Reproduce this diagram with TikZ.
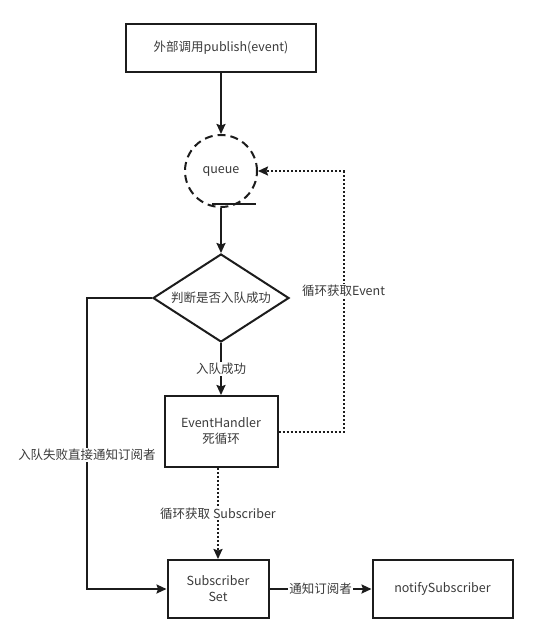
\documentclass[tikz,border=0pt]{standalone}
\usepackage{fontspec}
\setmainfont{Noto Sans CJK SC}
\usetikzlibrary{shapes,positioning,calc,arrows.meta}
\definecolor{linegray}{HTML}{1C1C1C}
\definecolor{textgray}{HTML}{3A3A3A}

\begin{document}
\begin{tikzpicture}[
    font=\fontsize{12.5pt}{16pt}\selectfont,
    block/.style = {rectangle,draw=linegray,line width=2pt,text=textgray,align=center},
    pool/.style = {circle,draw=linegray,line width=2pt,dash pattern=on 8pt off 5pt,minimum size=72pt,text=textgray},
    decision/.style = {diamond,draw=linegray,line width=2pt,minimum width=136pt,minimum height=88pt,aspect=1.55,inner sep=0pt,text=textgray},
    wire/.style = {draw=linegray,line width=2pt},
    flow/.style = {wire,-{Stealth[length=10pt,width=9pt,inset=1.5pt]}},
    fetch/.style = {flow,dash pattern=on 2pt off 2pt},
    tag/.style = {fill=white,text=textgray,inner sep=1pt}
    ]
    \useasboundingbox (0,0) rectangle (536pt,-641pt);

    \node[block,minimum width=190pt,minimum height=48pt] (publish) at (221pt,-48pt) {外部调用publish(event)};
    \node[pool,below=61pt of publish] (queue) {queue};
    \node[decision,below=45pt of queue] (judge) {判断是否入队成功};
    \node[block,minimum width=113pt,minimum height=71pt,below=52pt of judge] (handler) {EventHandler\\死循环};
    \node[block,minimum width=101pt,minimum height=58pt,below=91pt of handler,xshift=-3pt] (subscribers) {Subscriber\\Set};
    \node[block,minimum width=140pt,minimum height=58pt,right=102pt of subscribers] (notify) {notifySubscriber};

    \draw[flow] (publish) -- (queue);
    \draw[flow] (queue) -- (judge);
    \draw[wire] ([xshift=-9pt,yshift=4pt]queue.south) -- ++(44pt,0);
    \draw[flow] (judge) -- node[tag] {入队成功} (handler);
    \draw[fetch] (handler.east) -- ++(65pt,0) |- node[tag,pos=0.27] {循环获取Event} (queue.east);
    \draw[flow] (judge.west) -- ++(-65pt,0) |- node[tag,pos=0.27] {入队失败直接通知订阅者} (subscribers.west);
    \draw[fetch] (subscribers.north |- handler.south) -- node[tag] {循环获取 Subscriber} (subscribers.north);
    \draw[flow] (subscribers) -- node[tag] {通知订阅者} (notify);
\end{tikzpicture}
\end{document}
